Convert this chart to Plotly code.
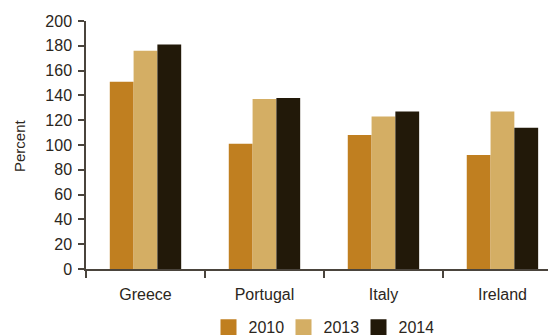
import plotly.graph_objects as go

countries = ["Greece", "Portugal", "Italy", "Ireland"]
years = ["2010", "2013", "2014"]
debt_2010 = [151, 101, 108, 92]
debt_2013 = [176, 137, 123, 127]
debt_2014 = [181, 138, 127, 114]

colors = {"2010": "#C07F20", "2013": "#D4AE64", "2014": "#221909"}
text_color = "#2b2620"
axis_color = "#4a443c"

fig = go.Figure()
for year, vals in zip(years, [debt_2010, debt_2013, debt_2014]):
    fig.add_trace(
        go.Bar(x=countries, y=vals, name=year, marker_color=colors[year],
               marker_line_width=0, showlegend=False)
    )
# legend-only entries so the swatches can be bigger squares
for year in years:
    fig.add_trace(
        go.Scatter(x=[None], y=[None], mode="markers", name=year,
                   marker=dict(symbol="square", size=16, color=colors[year]))
    )

# the page body has an 8px margin, so the figure is sized to the visible part
fig.update_layout(
    width=548,
    height=327,
    margin=dict(l=78, r=0, t=13, b=66, autoexpand=False),
    barmode="group",
    bargap=0.4,
    bargroupgap=0,
    plot_bgcolor="white",
    paper_bgcolor="white",
    font=dict(family="Liberation Sans, Arial, sans-serif", size=16, color=text_color),
    showlegend=True,
    legend=dict(
        orientation="h",
        x=0.5,
        xanchor="center",
        y=-0.235,
        yanchor="middle",
        font=dict(size=16),
        itemwidth=30,
        entrywidth=30,
    ),
    annotations=[
        dict(
            text="Percent",
            textangle=-90,
            xref="paper",
            yref="paper",
            x=-0.1426,
            xanchor="center",
            y=0.5,
            yanchor="middle",
            showarrow=False,
            font=dict(size=15),
        )
    ],
)

fig.update_xaxes(
    range=[-0.5, 3.45],
    automargin=False,
    showline=True,
    linecolor=axis_color,
    linewidth=1.5,
    ticks="outside",
    tickson="boundaries",
    ticklen=7,
    tickcolor=axis_color,
    tickwidth=1.5,
    ticklabelstandoff=10,
    showgrid=False,
)
fig.update_yaxes(
    range=[0, 200],
    dtick=20,
    automargin=False,
    showline=True,
    linecolor=axis_color,
    linewidth=1.5,
    ticks="outside",
    ticklen=6,
    tickcolor=axis_color,
    tickwidth=1.5,
    ticklabelstandoff=3,
    showgrid=False,
    zeroline=False,
)

fig.write_html("out.html")
